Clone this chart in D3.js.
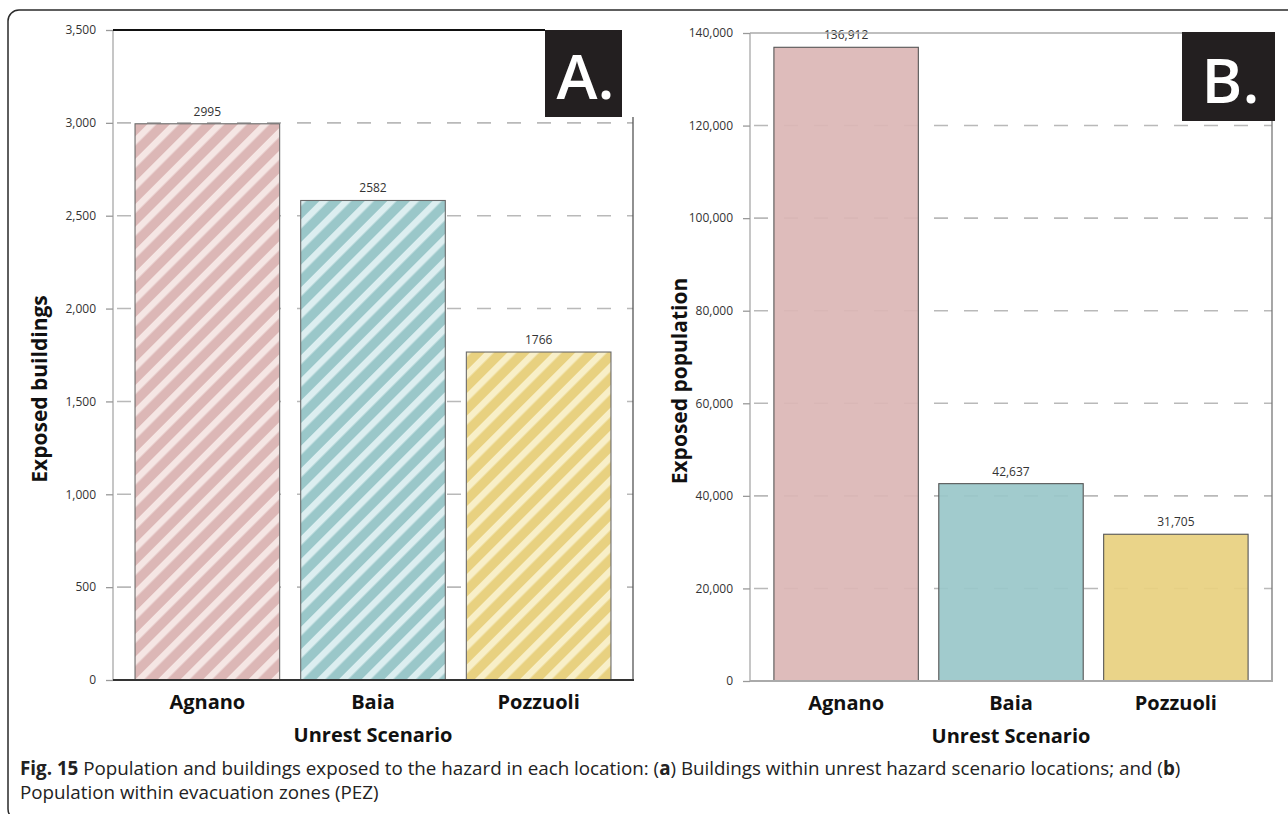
<!DOCTYPE html>
<html><head><meta charset="utf-8">
<script src="https://cdn.jsdelivr.net/npm/d3@7"></script>
<style>body{margin:0;background:#fff;} svg{display:block;}</style>
</head><body><svg id="c" width="1288" height="814"></svg>
<script>
// ---- data ----
const categories = ["Agnano", "Baia", "Pozzuoli"];
const buildingValues = [2995, 2582, 1766];
const buildingLabels = ["2995", "2582", "1766"];
const populationValues = [136912, 42637, 31705];
const populationLabels = ["136,912", "42,637", "31,705"];
const buildingTicks = [0, 500, 1000, 1500, 2000, 2500, 3000, 3500];
const populationTicks = [0, 20000, 40000, 60000, 80000, 100000, 120000, 140000];
const barColors = ["#dcb7b6", "#9ac7c9", "#e8d180"];
const stripeColors = ["#f5e6e4", "#dceef0", "#f8efc8"];
const xTitle = "Unrest Scenario";
const yTitleA = "Exposed buildings";
const yTitleB = "Exposed population";
const captionBold = "Fig. 15";
const captionLine1 = " Population and buildings exposed to the hazard in each location: (";
const captionA = "a";
const captionMid = ") Buildings within unrest hazard scenario locations; and (";
const captionB = "b";
const captionEnd = ")";
const captionLine2 = "Population within evacuation zones (PEZ)";

const svg = d3.select("#c");
const thinFont = "'Open Sans', sans-serif";
const boldFont = "'Open Sans', 'Liberation Sans', sans-serif";

// outer frame
svg.append("rect").attr("x", 8).attr("y", 10).attr("width", 1320).attr("height", 810)
  .attr("rx", 11).attr("fill", "none").attr("stroke", "#2a2a2a").attr("stroke-width", 1.5);

// stripe patterns
const defs = svg.append("defs");
barColors.forEach((c, i) => {
  const p = defs.append("pattern").attr("id", "stripe" + i)
    .attr("patternUnits", "userSpaceOnUse").attr("width", 16).attr("height", 16)
    .attr("patternTransform", "rotate(45)");
  p.append("rect").attr("width", 16).attr("height", 16).attr("fill", c);
  p.append("rect").attr("x", 0).attr("width", 6.5).attr("height", 16).attr("fill", stripeColors[i]);
});

function panel(o) {
  const x = d3.scaleBand().domain(categories).range([o.left, o.right])
    .paddingInner(o.pi).paddingOuter(o.po);
  const y = d3.scaleLinear().domain(o.domain).range([o.bottom, o.top]);
  const g = svg.append("g");

  // gridlines (behind bars)
  g.append("g").selectAll("line").data(o.ticks.filter(t => t > 0 && t < o.domain[1]))
    .join("line")
    .attr("x1", o.left).attr("x2", o.right)
    .attr("y1", d => y(d)).attr("y2", d => y(d))
    .attr("stroke", "#b9b9b9").attr("stroke-width", 1.6)
    .attr("stroke-dasharray", "14,16").attr("stroke-dashoffset", -4);

  // bars
  g.append("g").selectAll("rect").data(o.values).join("rect")
    .attr("x", (d, i) => x(categories[i]))
    .attr("width", x.bandwidth())
    .attr("y", d => y(d))
    .attr("height", d => y(0) - y(d))
    .attr("fill", (d, i) => o.striped ? "url(#stripe" + i + ")" : barColors[i])
    .attr("fill-opacity", o.striped ? 1 : 0.93)
    .attr("stroke", o.barStroke).attr("stroke-width", 1.1);

  // value labels
  g.append("g").selectAll("text").data(o.values).join("text")
    .attr("x", (d, i) => x(categories[i]) + x.bandwidth() / 2)
    .attr("y", d => y(d) - 8)
    .attr("text-anchor", "middle")
    .attr("font-family", thinFont).attr("font-size", 12).attr("fill", "#333")
    .text((d, i) => o.labels[i]);

  // frame lines
  g.append("line").attr("x1", o.left).attr("x2", o.left).attr("y1", o.top).attr("y2", o.bottom)
    .attr("stroke", "#a0a0a0").attr("stroke-width", 1.2);
  g.append("line").attr("x1", o.left).attr("x2", o.boxX).attr("y1", o.top).attr("y2", o.top)
    .attr("stroke", o.topStroke).attr("stroke-width", o.topWidth);
  g.append("line").attr("x1", o.right).attr("x2", o.right).attr("y1", o.boxY2).attr("y2", o.bottom)
    .attr("stroke", o.rightStroke).attr("stroke-width", 1.3);
  g.append("line").attr("x1", o.left).attr("x2", o.right + 1).attr("y1", o.bottom).attr("y2", o.bottom)
    .attr("stroke", o.baseStroke).attr("stroke-width", 2);

  // y axis
  const ax = g.append("g").attr("transform", `translate(${o.left},0)`)
    .call(d3.axisLeft(y).tickValues(o.ticks).tickFormat(d3.format(",")).tickSize(7).tickPadding(10));
  ax.select(".domain").remove();
  ax.selectAll(".tick line").attr("stroke", "#999").attr("stroke-width", 1.3);
  ax.selectAll(".tick text").attr("font-family", thinFont).attr("font-size", 12).attr("fill", "#333");

  // x category labels
  g.append("g").selectAll("text").data(categories).join("text")
    .attr("x", d => x(d) + x.bandwidth() / 2).attr("y", o.bottom + 29)
    .attr("text-anchor", "middle").attr("font-family", boldFont).attr("font-weight", 700)
    .attr("font-size", 20).attr("fill", "#111").text(d => d);

  // x title
  g.append("text").attr("x", (o.left + o.right) / 2).attr("y", o.bottom + 62)
    .attr("text-anchor", "middle").attr("font-family", boldFont).attr("font-weight", 700)
    .attr("font-size", 20).attr("fill", "#111").text(xTitle);

  // y title
  g.append("text").attr("transform", `translate(${o.yTitleX},${o.yTitleY}) rotate(-90)`)
    .attr("text-anchor", "middle").attr("font-family", boldFont).attr("font-weight", 700)
    .attr("font-size", 21).attr("fill", "#111").text(o.yTitle);

  // panel tag
  g.append("rect").attr("x", o.boxX).attr("y", o.boxY1).attr("width", o.boxX2 - o.boxX)
    .attr("height", o.boxY2 - o.boxY1).attr("fill", "#231f20");
  g.append("text").attr("x", (o.boxX + o.boxX2) / 2 + 2).attr("y", o.boxY2 - 18)
    .attr("text-anchor", "middle").attr("font-family", boldFont).attr("font-weight", 600)
    .attr("font-size", 62).attr("fill", "#fff").text(o.tag);
}

panel({
  left: 113, right: 633, top: 30, bottom: 680, pi: 0.127, po: 0.133,
  domain: [0, 3500], ticks: buildingTicks, values: buildingValues, labels: buildingLabels,
  striped: true, barStroke: "#6a6a6a",
  topStroke: "#111", topWidth: 2.2, rightStroke: "#555", baseStroke: "#333",
  yTitle: yTitleA, yTitleX: 47, yTitleY: 389,
  tag: "A.", boxX: 545, boxX2: 622, boxY1: 30, boxY2: 117
});
panel({
  left: 750, right: 1272, top: 33, bottom: 681, pi: 0.124, po: 0.145,
  domain: [0, 140000], ticks: populationTicks, values: populationValues, labels: populationLabels,
  striped: false, barStroke: "#555",
  topStroke: "#aaa", topWidth: 1.6, rightStroke: "#777", baseStroke: "#aaa",
  yTitle: yTitleB, yTitleX: 687, yTitleY: 381,
  tag: "B.", boxX: 1182, boxX2: 1275, boxY1: 32, boxY2: 121
});

// caption
const capSize = 18.8;
const cap = svg.append("text").attr("x", 20).attr("y", 775)
  .attr("font-family", thinFont).attr("font-size", capSize).attr("fill", "#222");
cap.append("tspan").attr("font-weight", 700).text(captionBold);
cap.append("tspan").text(captionLine1);
cap.append("tspan").attr("font-weight", 700).text(captionA);
cap.append("tspan").text(captionMid);
cap.append("tspan").attr("font-weight", 700).text(captionB);
cap.append("tspan").text(captionEnd);
svg.append("text").attr("x", 20).attr("y", 799)
  .attr("font-family", thinFont).attr("font-size", capSize).attr("fill", "#222")
  .text(captionLine2);
</script>
</body></html>
